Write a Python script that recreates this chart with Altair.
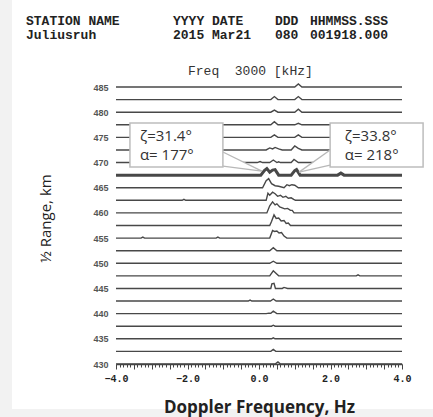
import altair as alt
import pandas as pd

# ---------------- data ----------------
ranges = [485 - 2.5 * i for i in range(23)]  # ½ range of each trace, km

# Doppler frequency (Hz) and echo amplitude (km of offset) of each trace's echo points
peak_freqs = [
    [1.0, 1.1, 1.2],                                                   # 485
    [0.33, 0.43, 0.53, 1.0, 1.1, 1.2],                                 # 482.5
    [0.33, 0.43, 0.53, 1.0, 1.1, 1.2],                                 # 480
    [0.33, 0.43, 0.53, 1.0, 1.1, 1.2],                                 # 477.5
    [0.33, 0.43, 0.53, 1.0, 1.1, 1.2],                                 # 475
    [0.2, 0.3, 0.38, 0.45, 0.55, 0.65, 0.9, 1.0, 1.1, 1.2],            # 472.5
    [-0.05, 0.03, 0.1, 0.3, 0.4, 0.5, 0.55, 0.6, 0.9, 0.98, 1.1],      # 470
    [0.05, 0.15, 0.22, 0.3, 0.38, 0.45, 0.55, 0.9, 1.0, 1.05, 1.15,
     2.2, 2.29, 2.38],                                                 # 467.5
    [0.1, 0.2, 0.27, 0.35, 0.45, 0.55, 0.7, 0.78, 0.85, 0.92, 1.0, 1.1],  # 465
    [-2.15, -2.1, -2.05, 0.2, 0.25, 0.3, 0.38, 0.45, 0.52, 0.6, 0.67,
     0.75, 0.82, 0.9, 0.97, 1.02],                                     # 462.5
    [0.22, 0.3, 0.38, 0.45, 0.5, 0.58, 0.65, 0.72, 0.8, 0.88, 0.93, 0.98],  # 460
    [0.3, 0.35, 0.42, 0.48, 0.55, 0.62, 0.7, 0.76, 0.82, 0.88],        # 457.5
    [-3.3, -3.25, -3.2, -1.2, -1.15, -1.1, 0.3, 0.38, 0.44, 0.5, 0.56,
     0.63, 0.7, 0.78],                                                 # 455
    [0.3, 0.4, 0.5],                                                   # 452.5
    [0.3, 0.4, 0.5],                                                   # 450
    [0.3, 0.4, 0.55, 2.72, 2.77, 2.82],                                # 447.5
    [0.33, 0.36, 0.42, 0.46, 0.65, 0.7, 0.8],                          # 445
    [-0.3, -0.25, -0.2, 0.32, 0.4, 0.48],                              # 442.5
    [0.2, 0.28, 0.33, 0.4, 0.5],                                       # 440
    [0.35, 0.4, 0.45],                                                 # 437.5
    [0.35, 0.4, 0.45],                                                 # 435
    [0.33, 0.4, 0.47],                                                 # 432.5
    [0.45, 0.53, 0.6],                                                 # 430
]
peak_amps = [
    [0, 0.6, 0],
    [0, 0.6, 0, 0, 0.6, 0],
    [0, 0.4, 0, 0, 0.6, 0],
    [0, 0.6, 0, 0, 0.3, 0],
    [0, 0.5, 0, 0, 0.5, 0],
    [0, 0.4, 0.2, 0.5, 0.2, 0, 0, 0.8, 0.3, 0],
    [0, 0.2, 0, 0, 0.5, 0, 0.15, 0, 0, 0.6, 0],
    [0, 0.9, 1.3, 0.6, 1.0, 1.1, 0, 0, 0.9, 1.1, 0, 0, 0.4, 0],
    [0, 1.4, 1.8, 0.8, 0.4, 0.3, 0, 0.6, 0.4, 0.6, 0.5, 0],
    [0, 0.2, 0, 0, 1.4, 1.0, 1.6, 1.3, 0.8, 1.0, 0.6, 0.8, 0.4, 0.5, 0.2, 0],
    [0, 1.4, 2.2, 1.6, 1.8, 1.2, 1.0, 0.8, 0.9, 0.5, 0.5, 0],
    [0, 0.8, 2.1, 1.4, 1.5, 0.9, 1.0, 0.4, 0.5, 0],
    [0, 0.2, 0, 0, 0.2, 0, 0, 1.5, 1.3, 1.4, 1.0, 1.1, 0.4, 0],
    [0, 0.6, 0],
    [0, 0.4, 0],
    [0, 1.0, 0, 0, 0.2, 0],
    [0, 0.9, 1.0, 0, 0, 0.2, 0],
    [0, 0.2, 0, 0, 0.4, 0],
    [0, 0.1, 0.05, 0.5, 0],
    [0, 0.2, 0],
    [0, 0.2, 0],
    [0, 0.4, 0],
    [0, 0.4, 0],
]
freq_domain = [-4.0, 4.0]
range_domain = [430, 485]
highlight_range = 467.5
y_label_values = [430, 435, 440, 445, 450, 455, 460, 465, 470, 475, 480, 485]
x_label_values = [-4.0, -2.0, 0.0, 2.0, 4.0]

header_row1 = ["STATION NAME", "YYYY DATE", "DDD", "HHMMSS.SSS"]
header_row2 = ["Juliusruh", "2015 Mar21", "080", "001918.000"]
freq_label = "Freq\u00a0\u00a03000 [kHz]"

ann_left_lines = ["ζ=31.4°", "α= 177°"]
ann_right_lines = ["ζ=33.8°", "α= 218°"]
# annotation boxes in data coordinates (freq, range)
box_left = dict(f1=-3.61, f2=-1.01, r1=477.85, r2=469.1)
box_right = dict(f1=1.99, f2=4.59, r1=477.85, r2=469.1)
wedge_left = dict(fa=-1.01, ra=472.1, rb=469.3, ft=0.08, rt=468.3)
wedge_right = dict(fa=1.99, ra=472.5, rb=469.5, ft=1.12, rt=468.1)
text_left_f, text_right_f = -3.33, 2.40
text_rows_r = [475.3, 471.5]

# ---------------- build tables ----------------
rows = []
for r, fs, amps in zip(ranges, peak_freqs, peak_amps):
    pts = [(freq_domain[0], 0.0)] + list(zip(fs, amps)) + [(freq_domain[1], 0.0)]
    for k, (f, a) in enumerate(pts):
        rows.append({"range": r, "freq": f, "y": r + a, "k": k})
traces = pd.DataFrame(rows)

W, H = 286, 277
PL, PT = 116, 87

xscale = alt.Scale(domain=freq_domain, nice=False, zero=False)
yscale = alt.Scale(domain=range_domain, nice=False, zero=False)

tick_vals = [round(-4 + 0.1 * i, 1) for i in range(81)]
major = "abs(datum.value*2 - round(datum.value*2)) < 0.01"
lab_test = " || ".join(f"abs(datum.value - ({v})) < 0.01" for v in x_label_values)

x_axis = alt.Axis(
    values=tick_vals,
    labelExpr=f"({lab_test}) ? format(datum.value, '.1f') : ''",
    tickSize={"condition": {"test": major, "value": 5}, "value": 3},
    tickColor="#444", domainColor="#444", tickWidth=1, domainWidth=1.5,
    grid=False, labelFont="Liberation Mono", labelFontWeight="bold", labelFontSize=10,
    labelColor="#222", labelPadding=4, labelFlush=False, labelOverlap=False,
    labelBound=False,
    title="Doppler Frequency, Hz", titleFont="Open Sans", titleFontSize=17,
    titleFontWeight="bold", titleColor="#222", titleY=43, titleBaseline="middle",
    zindex=1,
)
y_axis = alt.Axis(
    values=y_label_values, labelOverlap=False,
    ticks=False, domain=False, grid=False, labelPadding=8,
    labelFont="Liberation Sans", labelFontWeight="bold", labelFontSize=9, labelColor="#555",
    title="½ Range, km", titleFont="Open Sans", titleFontSize=15, titleFontWeight="normal",
    titleColor="#222", titleX=-71, titleY=131, titleAngle=270, titleBaseline="middle",
    titleAlign="center", zindex=1,
)

def X(field):
    return alt.X(field, scale=xscale, axis=x_axis)

def Y(field):
    return alt.Y(field, scale=yscale, axis=y_axis)

one = alt.Data(values=[{}])

panel = alt.Chart(one).mark_rect(fill="white").encode(
    x=alt.value(12 - PL), x2=alt.value(433 - PL), y=alt.value(-PT), y2=alt.value(409 - PT)
)

lines = alt.Chart(traces).mark_line(color="#484848", clip=False).encode(
    x=X("freq:Q"),
    y=Y("y:Q"),
    detail="range:N",
    order="k:Q",
    strokeWidth=alt.condition(f"datum.range == {highlight_range}", alt.value(3), alt.value(1.4)),
)

def wedge(w):
    area_df = pd.DataFrame({"f": [w["fa"], w["ft"]], "r": [w["ra"], w["rt"]], "r2": [w["rb"], w["rt"]]})
    area = alt.Chart(area_df).mark_area(color="white", opacity=1).encode(
        x=X("f:Q"), y=Y("r:Q"), y2="r2:Q")
    edge_df = pd.DataFrame({
        "f": [w["fa"], w["ft"], w["fa"], w["ft"]],
        "r": [w["ra"], w["rt"], w["rb"], w["rt"]],
        "g": [0, 0, 1, 1]})
    edge = alt.Chart(edge_df).mark_line(color="#b8b8b8", strokeWidth=1.3).encode(
        x=X("f:Q"), y=Y("r:Q"), detail="g:N")
    return [area, edge]

def box(b):
    df = pd.DataFrame([b])
    return alt.Chart(df).mark_rect(fill="white", stroke="#bdbdbd", strokeWidth=1.5, clip=False).encode(
        x=X("f1:Q"), x2="f2:Q", y=Y("r1:Q"), y2="r2:Q")

def ann_text(lines_, f0):
    df = pd.DataFrame({"t": lines_, "f": [f0] * len(lines_), "r": text_rows_r})
    return alt.Chart(df).mark_text(align="left", baseline="middle", font="Open Sans",
                                   fontSize=15, color="#333", clip=False).encode(
        x=X("f:Q"), y=Y("r:Q"), text="t:N")

def label(txt, px, py, **kw):
    return alt.Chart(one).mark_text(text=txt, align="left", baseline="middle", **kw).encode(
        x=alt.value(px - PL), y=alt.value(py - PT))

hdr_x = [26, 173, 275, 310]
hdr = []
for t, xx in zip(header_row1, hdr_x):
    hdr.append(label(t, xx, 21, font="Liberation Mono", fontWeight="bold", fontSize=13, color="#222"))
for t, xx in zip(header_row2, hdr_x):
    hdr.append(label(t, xx, 35, font="Liberation Mono", fontWeight="bold", fontSize=13, color="#222"))
hdr.append(label(freq_label, 188, 71, font="Liberation Mono", fontSize=13, color="#333"))

layers = [panel, lines] + wedge(wedge_left) + wedge(wedge_right) + [
    box(box_left), box(box_right), ann_text(ann_left_lines, text_left_f),
    ann_text(ann_right_lines, text_right_f)] + hdr

chart = alt.layer(*layers).properties(
    width=W, height=H,
    autosize=alt.AutoSizeParams(type="none"),
    padding={"left": PL, "top": PT, "right": 433 - PL - W, "bottom": 417 - PT - H},
    background="#f2f2f2",
).configure_view(stroke=None)

chart.save("out.html", embed_options={"renderer": "svg", "actions": False})
